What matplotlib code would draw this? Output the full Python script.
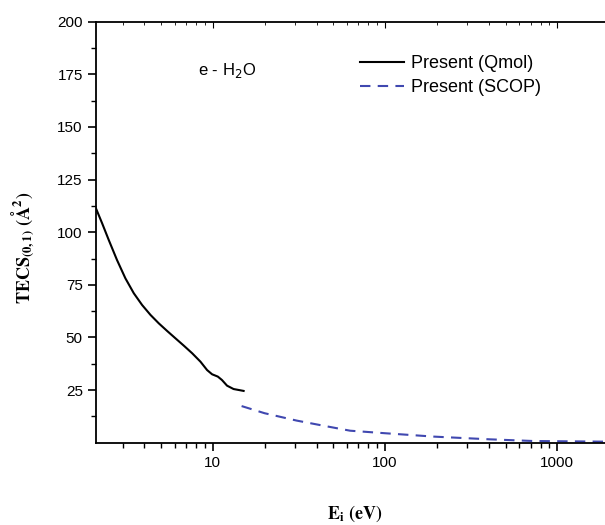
import matplotlib
matplotlib.use("Agg")
import matplotlib.pyplot as plt
from matplotlib.ticker import FixedLocator, NullFormatter, LogLocator

# Data
qmol_E = [2.08, 2.28, 2.49, 2.78, 3.11, 3.48, 3.89, 4.35, 4.86, 5.43, 6.07, 6.79,
          7.59, 8.48, 9.27, 9.91, 10.7, 11.3, 12.1, 13.2, 15.1]
qmol_Q = [112.1, 104.2, 96.3, 86.8, 78.1, 71.0, 65.4, 60.7, 56.7, 53.1, 49.6, 46.1,
          42.5, 38.5, 34.5, 32.5, 31.4, 29.8, 27.1, 25.5, 24.6]
scop_E = [14.7, 20.0, 30.7, 45.0, 62.7, 100, 191, 406, 725, 1000, 1850]
scop_Q = [17.4, 14.0, 10.5, 7.9, 5.7, 4.5, 2.9, 1.6, 0.8, 0.7, 0.5]
y_ticks = [25, 50, 75, 100, 125, 150, 175, 200]
x_ticks = [10, 100, 1000]
x_ticklabels = ["10", "100", "1000"]

W, H = 605, 525
fig = plt.figure(figsize=(W / 100, H / 100), dpi=100)
ax = fig.add_axes([96 / W, 1 - 442.7 / H, (W - 96) / W, (442.7 - 21.7) / H])

ax.plot(qmol_E, qmol_Q, color="black", lw=1.5, label="Present (Qmol)")
ax.plot(scop_E, scop_Q, color="#4048b0", lw=1.5, dashes=(5, 3.5), label="Present (SCOP)")

ax.set_xscale("log")
ax.set_xlim(2.1, 1890)
ax.set_ylim(0, 200)
ax.set_xticks(x_ticks)
ax.set_xticklabels(x_ticklabels)
ax.xaxis.set_minor_locator(LogLocator(base=10, subs=range(2, 10)))
ax.xaxis.set_minor_formatter(NullFormatter())
ax.set_yticks(y_ticks)
ax.yaxis.set_minor_locator(FixedLocator([12.5 + 25 * i for i in range(8)]))

for lab in ax.get_xticklabels() + ax.get_yticklabels():
    lab.set_family("Liberation Sans")
    lab.set_fontsize(11)

ax.tick_params(which="major", direction="out", length=6, width=1.2, pad=3.5)
ax.tick_params(which="minor", direction="out", length=3.5, width=1.0)
ax.spines["right"].set_visible(False)
for s in ["left", "bottom", "top"]:
    ax.spines[s].set_linewidth(1.3)

# top axis: inward ticks, no labels
axt = ax.twiny()
axt.set_xscale("log")
axt.set_xlim(ax.get_xlim())
axt.set_xticks(x_ticks)
axt.xaxis.set_minor_locator(LogLocator(base=10, subs=range(2, 10)))
axt.tick_params(which="major", direction="in", length=4, width=0.8, labeltop=False)
axt.tick_params(which="minor", direction="in", length=2.5, width=0.6, labeltop=False)
axt.xaxis.set_minor_formatter(NullFormatter())
for s in axt.spines.values():
    s.set_visible(False)

leg = ax.legend(loc="upper left", bbox_to_anchor=(360 / W, 1 - 55 / H),
                bbox_transform=fig.transFigure, frameon=False,
                prop={"family": "Liberation Sans", "size": 13},
                handlelength=2.45, handletextpad=0.35, labelspacing=0.4,
                borderpad=0, borderaxespad=0)

fig.text(198 / W, 1 - 71 / H, "e - H$_2$O", fontsize=12, family="Liberation Sans",
         ha="left", va="center")

fig.text(23 / W, 1 - 248 / H, r"$\mathbf{TECS_{(0,1)}\ (\AA^2)}$", rotation=90,
         ha="center", va="center", fontsize=13, math_fontfamily="stix")
fig.text(355 / W, 1 - 514 / H, r"$\mathbf{E_i\ (eV)}$", ha="center", va="center",
         fontsize=13, math_fontfamily="stix")

fig.savefig("out.png", dpi=100)
